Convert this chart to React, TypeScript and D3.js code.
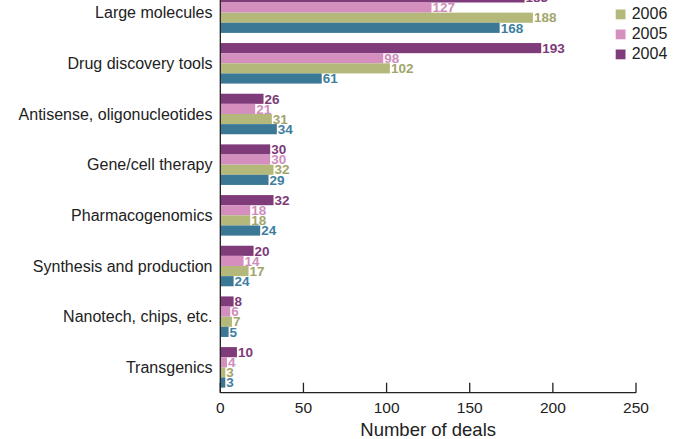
import React from "react";
import * as d3 from "d3";

const categories = [
  "Large molecules",
  "Drug discovery tools",
  "Antisense, oligonucleotides",
  "Gene/cell therapy",
  "Pharmacogenomics",
  "Synthesis and production",
  "Nanotech, chips, etc.",
  "Transgenics",
];
const seriesNames = ["2004", "2005", "2006", "2007"];
const values2004 = [183, 193, 26, 30, 32, 20, 8, 10];
const values2005 = [127, 98, 21, 30, 18, 14, 6, 4];
const values2006 = [188, 102, 31, 32, 18, 17, 7, 3];
const values2007 = [168, 61, 34, 29, 24, 8, 5, 3];
const labels2007 = ["168", "61", "34", "29", "24", "24", "5", "3"];
const xTicks = [0, 50, 100, 150, 200, 250];
const legendOrder = ["2007", "2006", "2005", "2004"];

const barColors: Record<string, string> = {
  "2004": "#803c7a",
  "2005": "#d48fbf",
  "2006": "#b4b87b",
  "2007": "#3b7896",
};
const textColors: Record<string, string> = {
  "2004": "#7d3a78",
  "2005": "#cf8cbc",
  "2006": "#a2a56a",
  "2007": "#3d7ea0",
};

const W = 689;
const H = 439;
const FONT = "'Liberation Sans', Arial, Helvetica, sans-serif";

export default function App() {
  const seriesValues = [values2004, values2005, values2006, values2007];
  const seriesLabels = [
    values2004.map(String),
    values2005.map(String),
    values2006.map(String),
    labels2007,
  ];
  const x = d3.scaleLinear().domain([0, 250]).range([220.3, 636]);
  const axisY = 392.7;
  const y = d3
    .scaleBand<string>()
    .domain(categories)
    .range([-12.7, axisY])
    .paddingInner(0.2)
    .paddingOuter(0.1);
  const inner = d3
    .scaleBand<string>()
    .domain(seriesNames)
    .range([0, y.bandwidth()]);

  return (
    <svg
      width={W}
      height={H}
      style={{ position: "absolute", left: 0, top: 0, display: "block", background: "#fff" }}
      fontFamily={FONT}
    >
      {categories.map((c, ci) => (
        <g key={c} transform={`translate(0,${y(c)})`}>
          {seriesNames.map((s, si) => {
            const v = seriesValues[si][ci];
            const by = inner(s)!;
            const bh = inner.bandwidth();
            return (
              <g key={s}>
                <rect
                  x={x(0)}
                  y={by}
                  width={x(v) - x(0)}
                  height={bh}
                  fill={barColors[s]}
                />
                <text
                  x={x(v) + 1}
                  y={by + bh / 2}
                  dy="0.35em"
                  fontSize={13.5}
                  fontWeight="bold"
                  fill={textColors[s]}
                >
                  {seriesLabels[si][ci]}
                </text>
              </g>
            );
          })}
          <text
            x={212.5}
            y={y.bandwidth() / 2}
            dy="0.35em"
            textAnchor="end"
            fontSize={16}
            fill="#222"
          >
            {c}
          </text>
        </g>
      ))}
      <line x1={x(0)} x2={x(0)} y1={-20} y2={axisY} stroke="#222" strokeWidth={1.3} />
      <line x1={x(0)} x2={x(250)} y1={axisY} y2={axisY} stroke="#222" strokeWidth={1.3} />
      {xTicks.map((t) => (
        <g key={t}>
          <line x1={x(t)} x2={x(t)} y1={axisY} y2={axisY - 10} stroke="#222" strokeWidth={1.3} />
          <text x={x(t)} y={413.3} textAnchor="middle" fontSize={15.5} fill="#222">
            {t}
          </text>
        </g>
      ))}
      <text x={x(125)} y={435.5} textAnchor="middle" fontSize={18.5} fill="#222">
        Number of deals
      </text>
      {legendOrder.map((s, i) => (
        <g key={s} transform={`translate(615.7,${-10.5 + i * 20})`}>
          <rect x={0} y={0} width={9.8} height={9.8} fill={barColors[s]} />
          <text x={16} y={9.8} fontSize={16} fill="#222">
            {s}
          </text>
        </g>
      ))}
    </svg>
  );
}
